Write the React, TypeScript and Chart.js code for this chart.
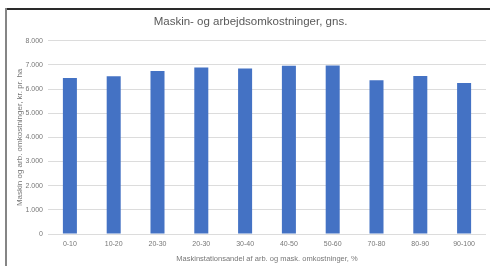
import React, { useEffect, useRef } from "react";
import { Chart, registerables } from "chart.js";

Chart.register(...registerables);

const categories = ["0-10", "10-20", "20-30", "20-30", "30-40", "40-50", "50-60", "70-80", "80-90", "90-100"];
const costValues = [6460, 6530, 6750, 6890, 6850, 6970, 6980, 6370, 6540, 6250];
const yTickValues = [0, 1000, 2000, 3000, 4000, 5000, 6000, 7000, 8000];

const chartTitle = "Maskin- og arbejdsomkostninger, gns.";
const yTitle = "Maskin og arb. omkostninger, kr. pr. ha";
const xTitle = "Maskinstationsandel af arb. og mask. omkostninger, %";

const FONT = "'Liberation Sans', 'DejaVu Sans', sans-serif";

function fmt(v: number): string {
  return String(v).replace(/\B(?=(\d{3})+(?!\d))/g, ".");
}

const framePlugin = {
  id: "frame",
  beforeDraw(chart: any) {
    const ctx = chart.ctx;
    ctx.save();
    ctx.fillStyle = "#ffffff";
    ctx.fillRect(0, 0, chart.width, chart.height);
    ctx.fillStyle = "#2a2a2a";
    ctx.fillRect(6, 8, chart.width - 6, 2);
    ctx.fillStyle = "#858585";
    ctx.fillRect(5, 8, 2, chart.height - 8);
    ctx.restore();
  },
};

export default function App() {
  const ref = useRef<HTMLCanvasElement | null>(null);
  useEffect(() => {
    if (!ref.current) return;
    const chart = new Chart(ref.current, {
      type: "bar",
      data: {
        labels: categories,
        datasets: [
          {
            data: costValues,
            backgroundColor: "#4472C4",
            borderWidth: 0,
            barPercentage: 0.32,
            categoryPercentage: 1,
          },
        ],
      },
      plugins: [framePlugin],
      options: {
        animation: false,
        responsive: false,
        devicePixelRatio: 1,
        layout: { padding: { left: 15, right: 4, top: 0, bottom: 3 } },
        plugins: {
          legend: { display: false },
          tooltip: { enabled: false },
          title: {
            display: true,
            text: chartTitle,
            color: "#595959",
            font: { family: FONT, size: 11.5, weight: "normal" },
            padding: { top: 15, bottom: 12 },
          },
        },
        scales: {
          x: {
            grid: { display: false, drawTicks: false },
            border: { display: false },
            ticks: {
              color: "#777777",
              font: { family: FONT, size: 7 },
              padding: 6,
              maxRotation: 0,
              autoSkip: false,
            },
            title: {
              display: true,
              text: xTitle,
              color: "#777777",
              font: { family: FONT, size: 7.5 },
              padding: { top: 4, bottom: 0 },
            },
            afterFit: (s: any) => {
              s.height = 29;
            },
          },
          y: {
            min: 0,
            max: 8000,
            afterBuildTicks: (s: any) => {
              s.ticks = yTickValues.map((v) => ({ value: v }));
            },
            grid: { color: "#dcdcdc", lineWidth: 1, drawTicks: false },
            border: { display: false },
            ticks: {
              color: "#777777",
              font: { family: FONT, size: 7 },
              padding: 5,
              callback: (v: any) => fmt(Number(v)),
            },
            title: {
              display: true,
              text: yTitle,
              color: "#777777",
              font: { family: FONT, size: 8 },
              padding: { top: 0, bottom: 2 },
            },
            afterFit: (s: any) => {
              s.width = 33;
            },
          },
        },
      },
    });
    return () => chart.destroy();
  }, []);
  return (
    <div style={{ position: "fixed", left: 0, top: 0, width: 490, height: 266 }}>
      <canvas ref={ref} width={490} height={266} style={{ width: 490, height: 266, display: "block" }} />
    </div>
  );
}
